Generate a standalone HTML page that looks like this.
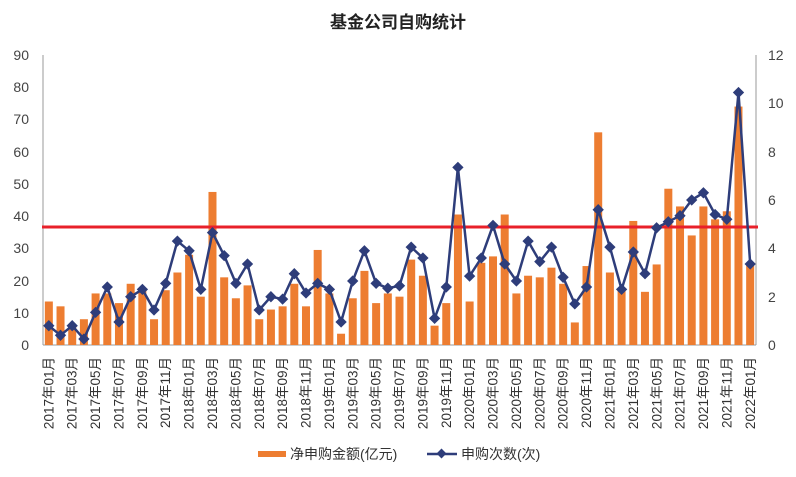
<!DOCTYPE html>
<html><head><meta charset="utf-8"><style>
html,body{margin:0;padding:0;background:#fff;}
svg{display:block;font-family:"Liberation Sans","Noto Sans CJK SC",sans-serif;}
</style></head><body>
<svg id="c" width="796" height="477" viewBox="0 0 796 477">
<text x="398" y="28" text-anchor="middle" font-size="17" font-weight="bold" fill="#222" font-family="'Noto Sans CJK SC',sans-serif">基金公司自购统计</text>
<g font-size="14" fill="#444" text-anchor="end">
<text x="29" y="60">90</text><text x="29" y="92">80</text><text x="29" y="124">70</text><text x="29" y="157">60</text><text x="29" y="189">50</text><text x="29" y="221">40</text><text x="29" y="253">30</text><text x="29" y="286">20</text><text x="29" y="318">10</text><text x="29" y="350">0</text>
</g>
<g font-size="14" fill="#444" text-anchor="start">
<text x="768" y="60">12</text><text x="768" y="108">10</text><text x="768" y="157">8</text><text x="768" y="205">6</text><text x="768" y="253">4</text><text x="768" y="302">2</text><text x="768" y="350">0</text>
</g>
<line x1="43" y1="55" x2="43" y2="345" stroke="#999" stroke-width="1"/>
<line x1="756" y1="55" x2="756" y2="345" stroke="#999" stroke-width="1"/>
<line x1="43" y1="345" x2="756" y2="345" stroke="#999" stroke-width="1"/>
<g id="bars"></g>
<line x1="42" y1="227" x2="758" y2="227" stroke="#e8202a" stroke-width="3"/>
<g id="ln"></g>
<g font-size="13.5" fill="#333" text-anchor="end" id="xl">
<text transform="translate(53.5,357) rotate(-90)">2017年01月</text>
<text transform="translate(76.7,357) rotate(-90)">2017年03月</text>
<text transform="translate(100.1,357) rotate(-90)">2017年05月</text>
<text transform="translate(123.5,357) rotate(-90)">2017年07月</text>
<text transform="translate(146.8,357) rotate(-90)">2017年09月</text>
<text transform="translate(170.2,357) rotate(-90)">2017年11月</text>
<text transform="translate(193.6,357) rotate(-90)">2018年01月</text>
<text transform="translate(217,357) rotate(-90)">2018年03月</text>
<text transform="translate(240.4,357) rotate(-90)">2018年05月</text>
<text transform="translate(263.8,357) rotate(-90)">2018年07月</text>
<text transform="translate(287.1,357) rotate(-90)">2018年09月</text>
<text transform="translate(310.5,357) rotate(-90)">2018年11月</text>
<text transform="translate(333.9,357) rotate(-90)">2019年01月</text>
<text transform="translate(357.3,357) rotate(-90)">2019年03月</text>
<text transform="translate(380.7,357) rotate(-90)">2019年05月</text>
<text transform="translate(404.1,357) rotate(-90)">2019年07月</text>
<text transform="translate(427.4,357) rotate(-90)">2019年09月</text>
<text transform="translate(450.8,357) rotate(-90)">2019年11月</text>
<text transform="translate(474.2,357) rotate(-90)">2020年01月</text>
<text transform="translate(497.6,357) rotate(-90)">2020年03月</text>
<text transform="translate(521,357) rotate(-90)">2020年05月</text>
<text transform="translate(544.4,357) rotate(-90)">2020年07月</text>
<text transform="translate(567.7,357) rotate(-90)">2020年09月</text>
<text transform="translate(591.1,357) rotate(-90)">2020年11月</text>
<text transform="translate(614.5,357) rotate(-90)">2021年01月</text>
<text transform="translate(637.9,357) rotate(-90)">2021年03月</text>
<text transform="translate(661.3,357) rotate(-90)">2021年05月</text>
<text transform="translate(684.7,357) rotate(-90)">2021年07月</text>
<text transform="translate(708,357) rotate(-90)">2021年09月</text>
<text transform="translate(731.4,357) rotate(-90)">2021年11月</text>
<text transform="translate(754.8,357) rotate(-90)">2022年01月</text>
</g>
<rect x="258" y="451" width="28" height="6" fill="#ed7d31"/>
<text x="290" y="459" font-size="14" fill="#333">净申购金额(亿元)</text>
<line x1="427" y1="454" x2="457" y2="454" stroke="#2e3d7a" stroke-width="2.5"/>
<rect x="438" y="450" width="7" height="7" fill="#2e3d7a" transform="rotate(45 441.5 453.5)"/>
<text x="461" y="459" font-size="14" fill="#333">申购次数(次)</text>
</svg>
<script>
var b=[13.5,12,6,8,16,16,13,19,17,8,17,22.5,28,15,47.5,21,14.5,18.5,8,11,12,19,12,29.5,16,3.5,14.5,23,13,16,15,26.5,21.5,6,13,40.5,13.5,25.5,27.5,40.5,16,21.5,21,24,19,7,24.5,66,22.5,17,38.5,16.5,25,48.5,43,34,43,39,41.5,74,25];
var l=[0.8,0.4,0.8,0.25,1.35,2.4,0.95,2,2.3,1.45,2.55,4.3,3.9,2.3,4.65,3.7,2.55,3.35,1.45,2,1.9,2.95,2.15,2.55,2.3,0.95,2.65,3.9,2.55,2.35,2.45,4.05,3.6,1.1,2.4,7.35,2.85,3.6,4.95,3.35,2.65,4.3,3.45,4.05,2.8,1.7,2.4,5.6,4.05,2.3,3.85,2.95,4.85,5.1,5.35,6.0,6.3,5.4,5.2,10.45,3.35];
var ns="http://www.w3.org/2000/svg",w=713/61,bg=document.getElementById('bars'),lg=document.getElementById('ln');
function el(t,a,p){var e=document.createElementNS(ns,t);for(var k in a)e.setAttribute(k,a[k]);p.appendChild(e);return e;}
var pts=[];
b.forEach(function(v,i){var cx=43+w*(i+0.5),h=v*290/90;el('rect',{x:cx-4,y:345-h,width:8,height:h,fill:'#ed7d31'},bg);});
l.forEach(function(v,i){var cx=43+w*(i+0.5),y=345-v*290/12;pts.push(cx.toFixed(1)+','+y.toFixed(1));});
el('polyline',{points:pts.join(' '),fill:'none',stroke:'#2e3d7a','stroke-width':2.5},lg);
pts.forEach(function(p){var q=p.split(','),x=+q[0],y=+q[1];el('rect',{x:x-4,y:y-4,width:8,height:8,fill:'#2e3d7a',transform:'rotate(45 '+x+' '+y+')'},lg);});
</script>
</body></html>
